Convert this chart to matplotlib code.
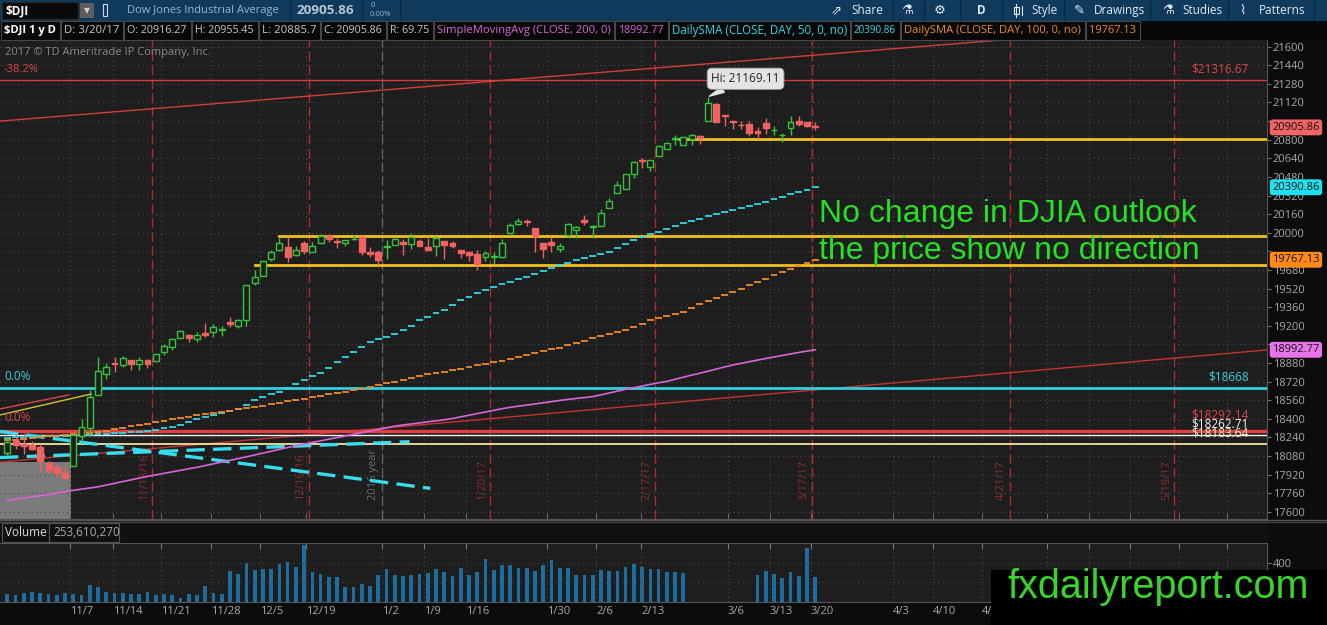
import numpy as np
import matplotlib
matplotlib.use("Agg")
import matplotlib.pyplot as plt
import matplotlib.transforms as mtrans
from matplotlib.patches import Rectangle

W, H = 1327, 625

# ---------------- data ----------------
# bar index: trading days, 0 = 11/7/16, 90 = 3/20/17
bar_idx = np.arange(-8, 91)

opens = [18105, 18210, 18180, 18175, 18160, 18020, 17985, 17935,
         17994, 18251, 18317, 18603, 18782, 18876, 18859, 18908, 18867, 18906,
         18898, 18970, 19016, 19093, 19122, 19089, 19141, 19149, 19163,
         19230, 19195, 19250, 19565, 19631, 19770, 19852, 19876, 19811, 19915,
         19836, 19909, 19970, 19932, 19909, 19944, 19964, 19835, 19833,
         19873, 19891, 19924, 19906, 19931, 19876, 19887, 19926, 19912,
         19848, 19835, 19820, 19795, 19794, 19794, 19994, 20076, 20103,
         20040, 19913, 19923, 19858, 19980, 20025, 20107, 20049, 20061, 20211,
         20338, 20374, 20504, 20627, 20564, 20663, 20723, 20810, 20752, 20808, 20833,
         20957, 21109, 21010, 20955, 20929, 20937, 20874, 20940, 20880, 20837,
         20899, 20960, 20950, 20916.27]
highs = [18240, 18270, 18280, 18210, 18180, 18040, 18010, 17990,
         18265, 18400, 18650, 18934, 18876, 18935, 18936, 18908, 18932, 18915,
         18960, 19044, 19083, 19152, 19128, 19150, 19225, 19214, 19201,
         19274, 19260, 19549, 19681, 19757, 19852, 19953, 19966, 19888, 19930,
         19917, 19988, 19987, 19952, 19934, 19980, 19973, 19878, 19853,
         19938, 19957, 19948, 19999, 19943, 19957, 19973, 19929, 19932,
         19853, 19843, 19850, 19843, 19833, 19949, 20082, 20125, 20115,
         20040, 19913, 19967, 19910, 20081, 20055, 20155, 20068, 20206, 20298,
         20441, 20504, 20620, 20639, 20624, 20757, 20779, 20840, 20821, 20851, 20841,
         21169.11, 21112, 21015, 20955, 20963, 20964, 20909, 20989, 20918, 20859,
         21000, 21000, 20953, 20955.45]
lows = [18090, 18140, 18100, 18130, 17945, 17930, 17900, 17880,
        17994, 18200, 18250, 18603, 18739, 18800, 18845, 18818, 18816, 18840,
        18898, 18950, 18987, 19093, 19063, 19058, 19105, 19107, 19111,
        19190, 19180, 19200, 19549, 19631, 19755, 19846, 19748, 19800, 19821,
        19835, 19909, 19920, 19869, 19887, 19939, 19812, 19788, 19718,
        19775, 19891, 19811, 19860, 19887, 19855, 19799, 19770, 19866,
        19785, 19759, 19678, 19759, 19732, 19786, 19994, 20068, 20059,
        19832, 19784, 19838, 19831, 19960, 19956, 20068, 19954, 20061, 20211,
        20338, 20374, 20471, 20556, 20532, 20663, 20723, 20758, 20752, 20754, 20767,
        20957, 20951, 20919, 20893, 20894, 20833, 20802, 20850, 20843, 20777,
        20837, 20920, 20905, 20885.7]
closes = [18199, 18170, 18161, 18142, 18037, 17959, 17930, 17888,
          18259, 18332, 18589, 18807, 18847, 18868, 18923, 18868, 18903, 18867,
          18956, 19023, 19083, 19152, 19097, 19121, 19123, 19191, 19170,
          19216, 19251, 19549, 19615, 19757, 19830, 19911, 19792, 19852, 19843,
          19883, 19975, 19942, 19919, 19934, 19946, 19833, 19819, 19763,
          19882, 19942, 19899, 19964, 19887, 19855, 19954, 19891, 19885,
          19826, 19804, 19732, 19827, 19799, 19912, 20068, 20100, 20093,
          19971, 19864, 19890, 19884, 20071, 20052, 20090, 20054, 20172, 20269,
          20412, 20504, 20611, 20619, 20624, 20743, 20775, 20810, 20821, 20837, 20812,
          21115, 20951, 21005, 20954, 20924, 20855, 20858, 20902, 20881, 20837,
          20950, 20934, 20914, 20905.86]

# volume in millions (no data shown for 2/27 - 3/9)
nan = np.nan
volumes = [79, 69, 96, 103, 96, 79, 72, 89,
           79, 72, 172, 158, 103, 96, 89, 79, 79, 103,
           72, 79, 72, 41, 79, 75, 165, 96, 79,
           319, 285, 398, 329, 336, 343, 388, 412, 360, 583,
           309, 292, 257, 257, 154, 154, 189, 165, 274,
           343, 274, 268, 281, 292, 295, 343, 309, 268,
           346, 278, 309, 446, 329, 377, 377, 353, 353,
           319, 381, 429, 353, 353, 278, 278, 278, 329, 319,
           319, 360, 388, 360, 343, 343, 309, 309, 302, nan, nan,
           nan, nan, nan, nan, nan, nan, 278, 319, 292, 250, 309, 268, 549, 257]

sma50 = [18238, 18240, 18242, 18244, 18246, 18248, 18250, 18252,
         18255, 18259, 18263, 18267, 18271, 18275, 18279, 18283, 18286, 18290,
         18303, 18317, 18326, 18345, 18372, 18400, 18417, 18434, 18451,
         18469, 18481, 18520, 18560, 18585, 18610, 18633, 18667, 18700, 18733,
         18765, 18796, 18840, 18884, 18928, 18972, 19016, 19060, 19085,
         19105, 19130, 19165, 19200, 19245, 19275, 19305, 19335, 19380,
         19420, 19450, 19478, 19506, 19534, 19558, 19580, 19600, 19620,
         19644, 19670, 19696, 19722, 19742, 19762, 19785, 19800, 19818, 19836,
         19866, 19900, 19935, 19962, 19985, 20006, 20030, 20055, 20080, 20100, 20120,
         20140, 20158, 20176, 20195, 20212, 20230, 20248, 20266, 20287, 20308,
         20330, 20350, 20370, 20390.86]
sma100 = [18215, 18220, 18226, 18232, 18240, 18248, 18254, 18260,
          18266, 18272, 18278, 18286, 18298, 18310, 18322, 18334, 18346, 18358,
          18370, 18382, 18394, 18406, 18418, 18430, 18440, 18450, 18460,
          18470, 18480, 18489, 18501, 18513, 18525, 18537, 18549, 18561, 18573,
          18585, 18597, 18609, 18620, 18631, 18645, 18659, 18673, 18687,
          18703, 18719, 18735, 18752, 18769, 18786, 18795, 18802, 18815,
          18830, 18844, 18858, 18872, 18886, 18900, 18917, 18934, 18951,
          18966, 18981, 18996, 19012, 19030, 19051, 19072, 19093, 19110, 19128,
          19146, 19164, 19185, 19215, 19245, 19265, 19283, 19302, 19320, 19352, 19384,
          19411, 19438, 19465, 19492, 19520, 19548, 19577, 19606, 19633, 19660,
          19687, 19714, 19741, 19767.13]
sma200 = [17698, 17708, 17718, 17728, 17738, 17748, 17760, 17772,
          17784, 17794, 17804, 17814, 17829, 17844, 17859, 17874, 17889, 17904,
          17917, 17930, 17943, 17956, 17969, 17982, 17997, 18012, 18027,
          18042, 18057, 18072, 18088, 18104, 18120, 18136, 18152, 18168, 18182,
          18196, 18210, 18224, 18238, 18252, 18266, 18280, 18294, 18308,
          18322, 18336, 18346, 18355, 18364, 18373, 18382, 18391, 18402,
          18416, 18430, 18444, 18458, 18472, 18486, 18498, 18508, 18517,
          18527, 18537, 18547, 18557, 18566, 18574, 18582, 18590, 18605, 18621,
          18637, 18653, 18667, 18681, 18695, 18709, 18721, 18739, 18757, 18775, 18791,
          18809, 18827, 18845, 18862, 18876, 18890, 18904, 18918, 18931, 18944,
          18957, 18970, 18982, 18992.77]

# drawings on the chart
fib_top = 21316.67
fib_zero = 18668
level_red = 18292.14
level_white = 18262.71
level_cream = 18183.64
yellow_levels = [20805, 19975, 19725]
yellow_from = [73.5, 25, 22]
upper_trend = [(-8.9, 20960), (82.7, 21486)]
lower_trend = [(-8.9, 18027), (144.7, 18991)]
cyan_trend_a = [(-8.9, 18290), (43.3, 17801)]
cyan_trend_b = [(-8.9, 18066), (40.8, 18202)]
short_red = [(-8.9, 18484), (-0.6, 18604)]
short_yellow = [(-8.9, 18432), (2.2, 18613)]
shade_box = (-8.9, -0.3, 18030)

expiry_pos = [9.58, 28.58, 50.58, 70.58, 89.58, 113.58, 133.58]
expiry_labels = ["11/18/16", "12/16/16", "1/20/17", "2/17/17", "3/17/17", "4/21/17", "5/19/17"]
year_pos = 37.5

date_pos = [-0.34, 4.78, 10.64, 16.70, 22.65, 28.23, 37.45, 42.54, 47.64, 57.46,
            63.40, 68.86, 79.41, 84.51, 89.48, 99.43, 104.28, 110.22,
            118.1, 123.2, 128.2, 134.1, 139.9]
date_labels = ["11/7", "11/14", "11/21", "11/28", "12/5", "12/19", "1/2", "1/9", "1/16",
               "1/30", "2/6", "2/13", "3/6", "3/13", "3/20", "4/3", "4/10", "4/17",
               "", "", "", "", ""]

price_ticks = np.arange(17600, 21601, 160)

# ---------------- style ----------------
UI = "Open Sans"
ARIAL = "Liberation Sans"
plt.rcParams["font.family"] = [UI, "DejaVu Sans"]
FS = 8

PANEL = "#1e1e1e"
DARK = "#0c0c0c"
UP = "#35c23c"
DOWN = "#f06262"
GRID = "#4a4a4a"
TXT = "#a9a9a9"
CYAN = "#2fd8e8"
ORANGE = "#ee8a2a"
MAGENTA = "#d866d8"
RED = "#d83c3c"
YELLOW = "#f0c020"

X_LEFT, X_RIGHT = -8.89, 144.74
Y_LOW, Y_HIGH = 17537.3, 21657.6


def px_rect(x0, y0, x1, y1):
    return [x0 / W, 1 - y1 / H, (x1 - x0) / W, (y1 - y0) / H]


def fit_text(axx, x, y, s, max_w, size, **kw):
    # shrink a label until it fits its cell
    t = axx.text(x, y, s, fontsize=size, **kw)
    w = t.get_window_extent(fig.canvas.get_renderer()).width
    if w > max_w:
        t.set_fontsize(size * max_w / w)
    return t


fig = plt.figure(figsize=(W / 100, H / 100), dpi=100, facecolor=DARK)

# background / chrome
bg = fig.add_axes([0, 0, 1, 1])
bg.set_xlim(0, W)
bg.set_ylim(H, 0)
bg.axis("off")
bg.add_patch(Rectangle((0, 0), W, 20.5, fc="#0f3a5c", ec="none"))
bg.add_patch(Rectangle((0, 20.5), W, 20, fc="#080808", ec="none"))
bg.add_patch(Rectangle((0, 519), 1266.5, 23, fc="#111111", ec="none"))
bg.plot([0, W], [519.5, 519.5], color="#555", lw=1)
bg.plot([0, W], [522, 522], color="#444", lw=1)

# ---------------- price pane ----------------
ax = fig.add_axes(px_rect(0, 40, 1266.5, 519), facecolor=PANEL)
ax.set_xlim(X_LEFT, X_RIGHT)
ax.set_ylim(Y_LOW, Y_HIGH)

badge_vals = [closes[-1], sma50[-1], sma100[-1], sma200[-1]]
# scale labels that sit under a value badge are hidden, as on the platform
tick_text = []
for t in price_ticks:
    hidden = any(0 < t - v < 80 for v in badge_vals)
    tick_text.append("" if hidden else str(t))
ax.set_yticks(price_ticks)
ax.set_yticklabels(tick_text)
ax.yaxis.tick_right()
ax.tick_params(axis="y", direction="out", length=3, width=0.8, color="#777",
               labelcolor=TXT, labelsize=FS, pad=1.5)
ax.set_xticks(date_pos)
ax.set_xticklabels([])
ax.tick_params(axis="x", direction="in", length=4, color="#666")
ax.grid(True, color=GRID, linestyle=(0, (1, 3)), lw=0.8)
for s in ax.spines.values():
    s.set_color("#555")
ax.spines["left"].set_visible(False)
ax.spines["top"].set_visible(False)

# shaded drawing at the lower-left
ax.add_patch(Rectangle((shade_box[0], Y_LOW), shade_box[1] - shade_box[0], shade_box[2] - Y_LOW,
                       fc="#7b7b7b", ec="none", zorder=1))

# option-expiry markers
for xp, lab in zip(expiry_pos, expiry_labels):
    ax.axvline(xp, color="#b02a2a", ls=(0, (7, 3)), lw=1, zorder=1.5)
    ax.text(xp - 0.3, 17705, lab, rotation=90, ha="right", va="bottom",
            color="#902c2c", fontsize=FS, zorder=1.5)
ax.axvline(year_pos, color="#6a6a6a", ls=(0, (7, 3)), lw=1, zorder=1.5)
ax.text(year_pos - 0.4, 17700, "2016 year", rotation=90, ha="right", va="bottom",
        color="#6e6e6e", fontsize=FS, zorder=1.5)

# trend lines and levels
ax.axline(*upper_trend, color=RED, lw=1, zorder=2)
ax.axline(*lower_trend, color="#c83232", lw=1, zorder=2)
ax.axhline(fib_top, color=RED, lw=1, zorder=2)
ax.axhline(fib_zero, color="#30d0e0", lw=2, zorder=2)
ax.axhline(level_red, color="#e04040", lw=2.4, zorder=2)
ax.axhline(level_white, color="#f2f2f2", lw=1, zorder=2)
ax.axhline(level_cream, color="#fff3b0", lw=1.2, zorder=2)
for lv, x_from in zip(yellow_levels, yellow_from):
    ax.plot([x_from, X_RIGHT], [lv, lv], color=YELLOW, lw=2, zorder=2)
for seg, col in [(short_red, "#d84848"), (short_yellow, "#d8c030")]:
    ax.plot([seg[0][0], seg[1][0]], [seg[0][1], seg[1][1]], color=col, lw=1, zorder=2)
for seg in (cyan_trend_a, cyan_trend_b):
    ax.plot([seg[0][0], seg[1][0]], [seg[0][1], seg[1][1]], color="#38dcec",
            lw=2.4, ls=(0, (5.5, 2.5)), zorder=2)

# moving averages
ax.plot(bar_idx, sma200, color=MAGENTA, lw=1.2, zorder=2.2)
ax.hlines(sma50, bar_idx - 0.42, bar_idx + 0.42, color=CYAN, lw=1.3, zorder=2.2)
ax.hlines(sma100, bar_idx - 0.42, bar_idx + 0.42, color=ORANGE, lw=1.3, zorder=2.2)

# candles
for i, o, h, l, c in zip(bar_idx, opens, highs, lows, closes):
    up = c >= o
    col = UP if up else DOWN
    b0, b1 = min(o, c), max(o, c)
    ax.vlines(i, l, b0, color=col, lw=1, zorder=3)
    ax.vlines(i, b1, h, color=col, lw=1, zorder=3)
    ax.add_patch(Rectangle((i - 0.36, b0), 0.72, max(b1 - b0, 6),
                           fc=PANEL if up else col, ec=col, lw=1, zorder=3))

# labels on the drawings
lab_x = 142.6
for txt, lv, col in [("$21316.67", fib_top, "#d84848"), ("$18668", fib_zero, "#38d0e0")]:
    ax.annotate(txt, (lab_x, lv), xytext=(0, 3), textcoords="offset points",
                ha="right", va="bottom", color=col, fontsize=FS + 0.5, zorder=4)
ax.annotate("$18292.14", (lab_x, level_red), xytext=(0, 7), textcoords="offset points",
            ha="right", va="bottom", color="#d84848", fontsize=FS + 0.5, zorder=4)
ax.annotate("$18262.71", (lab_x, level_white), xytext=(0, 3), textcoords="offset points",
            ha="right", va="bottom", color="#f4f4f4", fontsize=FS + 0.5, zorder=4)
ax.annotate("$18183.64", (lab_x, level_cream), xytext=(0, 3), textcoords="offset points",
            ha="right", va="bottom", color="#fff6c8", fontsize=FS + 0.5, zorder=4)
ax.annotate("-38.2%", (-8.4, fib_top), xytext=(0, 3), textcoords="offset points",
            ha="left", va="bottom", color="#d84848", fontsize=FS)
ax.annotate("0.0%", (-8.4, fib_zero), xytext=(0, 3), textcoords="offset points",
            ha="left", va="bottom", color="#38d0e0", fontsize=FS + 0.5)
ax.annotate("0.0%", (-8.4, level_red), xytext=(0, 5), textcoords="offset points",
            ha="left", va="bottom", color="#d84848", fontsize=FS + 0.5)
ax.text(0.004, 0.985, "2017 \u00a9 TD Ameritrade IP Company, Inc.", transform=ax.transAxes,
        ha="left", va="top", color="#8a8a8a", fontsize=FS)

# high callout
hi_i = int(np.argmax(highs))
ax.annotate(f"Hi: {highs[hi_i]:.2f}", (bar_idx[hi_i], highs[hi_i]), xytext=(27, 13),
            textcoords="offset points", ha="center", va="center", fontsize=FS + 0.5, color="#222",
            bbox=dict(boxstyle="round,pad=0.35,rounding_size=0.4", fc="#e4e4e4", ec="#9a9a9a", lw=0.6),
            arrowprops=dict(arrowstyle="wedge,tail_width=0.5", fc="#e4e4e4", ec="#e4e4e4",
                            shrinkA=0, shrinkB=1), zorder=6)

# value badges on the price scale
ymix = mtrans.blended_transform_factory(ax.transAxes, ax.transData)
for val, fc in zip(badge_vals, ["#f06464", "#1ee0f0", "#ff8a1a", "#e872e8"]):
    ax.text(1.0045, val, f"{val:.2f}", transform=ymix, ha="left", va="center",
            fontsize=FS, color="#111", clip_on=False, zorder=10,
            bbox=dict(boxstyle="round,pad=0.22,rounding_size=0.25", fc=fc, ec="none"))

# ---------------- volume pane ----------------
axv = fig.add_axes(px_rect(0, 542.7, 1266.5, 602), facecolor=PANEL)
axv.set_xlim(X_LEFT, X_RIGHT)
axv.set_ylim(0, 608)
vol = np.array(volumes, dtype=float)
ok = ~np.isnan(vol)
axv.bar(bar_idx[ok], vol[ok], width=0.45, color="#1d6d9e")
axv.set_yticks([200, 400])
axv.set_yticklabels(["", "400"])
axv.yaxis.tick_right()
axv.tick_params(axis="y", direction="out", length=3, color="#777", labelcolor=TXT,
                labelsize=FS, pad=1.5)
axv.set_xticks(date_pos)
axv.set_xticklabels(date_labels, ha="left", color=TXT, fontsize=FS)
axv.tick_params(axis="x", direction="in", length=4, color="#777", top=True, bottom=False,
                labelbottom=True, pad=3)
axv.grid(True, color=GRID, linestyle=(0, (1, 3)), lw=0.8)
for s in axv.spines.values():
    s.set_color("#555")
axv.spines["left"].set_visible(False)

# ---------------- overlay: toolbars, notes ----------------
ov = fig.add_axes([0, 0, 1, 1], facecolor="none")
ov.set_xlim(0, W)
ov.set_ylim(H, 0)
ov.axis("off")

# top bar
ov.add_patch(Rectangle((2, 2), 76, 16.5, fc="#0a0a0a", ec="#2a2a2a", lw=0.8))
ov.text(6, 10.5, "$DJI", color="white", fontsize=8.5, fontweight="bold", va="center")
ov.add_patch(Rectangle((80, 3), 14, 15, fc="#5c5c5c", ec="none"))
ov.text(87, 10.5, "\u25bc", color="#cfcfcf", fontsize=5.5, ha="center", va="center",
        family="DejaVu Sans")
ov.add_patch(Rectangle((103, 4), 4, 12, fc="none", ec="#cfd8e0", lw=0.8))
fit_text(ov, 127, 10.5, "Dow Jones Industrial Average", 150, 8.5, color="#9fb4c8", va="center")
fit_text(ov, 297, 10.5, "20905.86", 58, 10.5, color="#b9c5d1", fontweight="bold", va="center")
ov.text(371, 5.5, "0", color="#9fb4c8", fontsize=5.5, va="center")
ov.text(370, 14.5, "0.00%", color="#9fb4c8", fontsize=5.5, va="center")
for sx in [290, 362, 400, 893, 924, 960, 1002, 1064, 1150, 1228, 1314]:
    ov.plot([sx, sx], [1, 19.5], color="#0a2840", lw=1)
tools = [(831, "\u21d7", "DejaVu Sans"), (851, "Share", None), (901, "\u2697", "DejaVu Sans"),
         (934, "\u2699", "DejaVu Sans"), (977, "D", None),
         (1031, "Style", None), (1074, "\u270e", "DejaVu Sans"), (1094, "Drawings", None),
         (1162, "\u2697", "DejaVu Sans"), (1182, "Studies", None), (1240, "\u2307", "DejaVu Sans"),
         (1259, "Patterns", None)]
for tx, t, fam in tools:
    kw = {"family": fam} if fam else {}
    ov.text(tx, 10.5, t, color="#e2e8ee", fontsize=8.5 if fam is None else 9.5,
            fontweight="bold" if t == "D" else "normal", va="center", **kw)
# small candle icon for "Style"
ov.plot([1016, 1016], [4, 17], color="#e2e8ee", lw=0.8)
ov.add_patch(Rectangle((1013.5, 7), 5, 7, fc="none", ec="#e2e8ee", lw=0.8))
ov.plot([1022, 1022], [6, 15], color="#e2e8ee", lw=0.8)

# study header row
cells = [(0, 60, "$DJI 1 y D", "white"), (60, 123, "D: 3/20/17", "#c8c8c8"),
         (123, 191, "O: 20916.27", "#c8c8c8"), (191, 258, "H: 20955.45", "#c8c8c8"),
         (258, 320, "L: 20885.7", "#c8c8c8"), (320, 386, "C: 20905.86", "#c8c8c8"),
         (386, 433, "R: 69.75", "#c8c8c8"),
         (433, 614, "SimpleMovingAvg (CLOSE, 200, 0)", MAGENTA), (614, 668, "18992.77", MAGENTA),
         (668, 850, "DailySMA (CLOSE, DAY, 50, 0, no)", CYAN), (850, 900, "20390.86", CYAN),
         (900, 1085, "DailySMA (CLOSE, DAY, 100, 0, no)", ORANGE), (1085, 1140, "19767.13", ORANGE)]
for x0, x1, t, col in cells:
    ov.add_patch(Rectangle((x0 + 0.5, 21), x1 - x0 - 1, 19, fc="none", ec="#474747", lw=0.8))
    fit_text(ov, x0 + 4, 30.5, t, x1 - x0 - 8, 8.5, color=col, va="center",
             fontweight="bold" if x0 == 0 else "normal")

# volume header
ov.add_patch(Rectangle((1.5, 523), 47.5, 18.5, fc="none", ec="#555", lw=0.8))
ov.add_patch(Rectangle((49, 523), 70, 18.5, fc="none", ec="#555", lw=0.8))
ov.text(5, 532.5, "Volume", color="#dcdcdc", fontsize=8.5, va="center")
ov.text(53, 532.5, "253,610,270", color=TXT, fontsize=8.5, va="center")

# comment written on the chart
ov.text(819, 222, "No change in DJIA outlook", color="#27e024", fontsize=23,
        family=ARIAL, va="baseline")
ov.text(819, 259, "the price show no direction", color="#27e024", fontsize=23,
        family=ARIAL, va="baseline")

# watermark box
ov.add_patch(Rectangle((991, 570), W - 991, H - 570, fc="black", ec="none"))
ov.text(1158, 598, "fxdailyreport.com", color="#3ad52a", fontsize=28.5, family=ARIAL,
        ha="center", va="baseline")

fig.savefig("out.png", dpi=100, facecolor=fig.get_facecolor())
